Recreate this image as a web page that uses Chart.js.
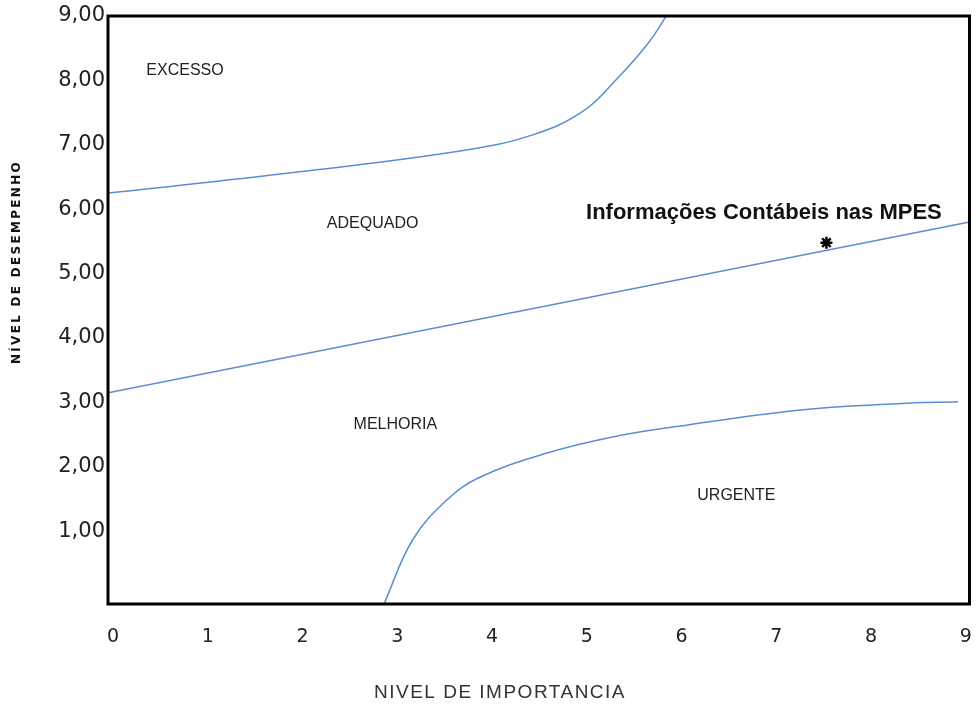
<!DOCTYPE html>
<html>
<head>
<meta charset="utf-8">
<title>Matriz Importância x Desempenho</title>
<script src="https://cdn.jsdelivr.net/npm/chart.js@4.4.0/dist/chart.umd.min.js"></script>
<style>
    html, body { margin: 0; padding: 0; background: #fff; }
</style>
</head>
<body>
<canvas id="chart" width="978" height="704"></canvas>
<script>
// Axis ticks
const xTicks = [0, 1, 2, 3, 4, 5, 6, 7, 8, 9];
const yTicks = [1, 2, 3, 4, 5, 6, 7, 8, 9];

// Boundary curves
const upperX = [-0.05, 1.97, 3.73, 4.42, 4.95, 5.31, 5.65, 5.86];
const upperY = [6.25, 6.58, 6.92, 7.15, 7.51, 8.01, 8.58, 9.05];

const middleX = [-0.05, 9.04];
const middleY = [3.15, 5.80];

const lowerX = [2.86, 3.16, 3.52, 3.86, 4.57, 5.26, 5.97, 7.23, 8.28, 8.92];
const lowerY = [-0.13, 0.86, 1.48, 1.83, 2.21, 2.46, 2.63, 2.88, 2.98, 3.01];

// Evaluated item
const itemX = [7.53];
const itemY = [5.48];
const itemName = 'Informações Contábeis nas MPES';

// Zone labels
const zoneNames = ['EXCESSO', 'ADEQUADO', 'MELHORIA', 'URGENTE'];
const zoneX = [0.76, 2.74, 2.98, 6.58];
const zoneY = [8.15, 5.77, 2.66, 1.55];

function toPoints(xs, ys) {
    return xs.map((x, i) => ({ x: x, y: ys[i] }));
}

const lineColor = '#5b8ed0';

// Frame, zone labels and axis titles
const decorPlugin = {
    id: 'decor',
    afterDatasetsDraw(chart) {
        const ctx = chart.ctx;
        const area = chart.chartArea;
        const xs = chart.scales.x;
        const ys = chart.scales.y;
        ctx.save();

        // thick frame around the plot
        ctx.strokeStyle = '#000';
        ctx.lineWidth = 3;
        ctx.strokeRect(area.left, area.top, area.right - area.left, area.bottom - area.top);

        ctx.fillStyle = '#222';
        ctx.textAlign = 'center';
        ctx.textBaseline = 'middle';
        ctx.font = '16px "Liberation Sans", Arial, sans-serif';
        zoneNames.forEach((name, i) => {
            ctx.fillText(name, xs.getPixelForValue(zoneX[i]), ys.getPixelForValue(zoneY[i]));
        });

        // item name above the asterisk
        ctx.fillStyle = '#111';
        ctx.font = 'bold 22px "Liberation Sans", Arial, sans-serif';
        ctx.fillText(itemName, xs.getPixelForValue(6.87), ys.getPixelForValue(5.94));

        // x axis title
        ctx.fillStyle = '#333';
        ctx.font = '19px "Liberation Sans", Arial, sans-serif';
        ctx.letterSpacing = '1.5px';
        ctx.fillText('NIVEL DE IMPORTANCIA', 500, 693);

        // y axis title
        ctx.translate(17, 262);
        ctx.rotate(-Math.PI / 2);
        ctx.fillStyle = '#111';
        ctx.font = 'bold 12px "DejaVu Sans", sans-serif';
        ctx.letterSpacing = '2.3px';
        ctx.fillText('NÍVEL DE DESEMPENHO', 0, 0);
        ctx.restore();
    }
};

new Chart(document.getElementById('chart'), {
    type: 'line',
    data: {
        datasets: [
            {
                data: toPoints(upperX, upperY),
                borderColor: lineColor,
                borderWidth: 1.5,
                pointRadius: 0,
                tension: 0.4
            },
            {
                data: toPoints(middleX, middleY),
                borderColor: lineColor,
                borderWidth: 1.5,
                pointRadius: 0
            },
            {
                data: toPoints(lowerX, lowerY),
                borderColor: lineColor,
                borderWidth: 1.5,
                pointRadius: 0,
                tension: 0.4
            },
            {
                data: toPoints(itemX, itemY),
                showLine: false,
                pointStyle: 'star',
                pointRadius: 6,
                borderColor: '#000',
                borderWidth: 2.5
            }
        ]
    },
    options: {
        responsive: false,
        animation: false,
        layout: { padding: { top: 16, right: 4, left: 0, bottom: 0 } },
        plugins: {
            legend: { display: false },
            tooltip: { enabled: false }
        },
        scales: {
            x: {
                type: 'linear',
                min: -0.053,
                max: 9.04,
                grid: { display: false, drawTicks: false },
                border: { display: false },
                afterBuildTicks: scale => { scale.ticks = xTicks.map(v => ({ value: v })); },
                afterFit: scale => {
                    scale.height = 100;
                    scale.paddingLeft = 0;
                    scale.paddingRight = 0;
                },
                ticks: {
                    color: '#222',
                    padding: 22,
                    font: { family: '"DejaVu Sans", sans-serif', size: 19 },
                    callback: v => String(v)
                }
            },
            y: {
                type: 'linear',
                min: -0.13,
                max: 9,
                grid: { display: false, drawTicks: false },
                border: { display: false },
                afterBuildTicks: scale => { scale.ticks = yTicks.map(v => ({ value: v })); },
                afterFit: scale => {
                    scale.width = 108;
                    scale.paddingTop = 0;
                    scale.paddingBottom = 0;
                },
                ticks: {
                    color: '#222',
                    padding: 3,
                    font: { family: '"DejaVu Sans", sans-serif', size: 21 },
                    callback: v => v.toFixed(2).replace('.', ',')
                }
            }
        }
    },
    plugins: [decorPlugin]
});
</script>
</body>
</html>
